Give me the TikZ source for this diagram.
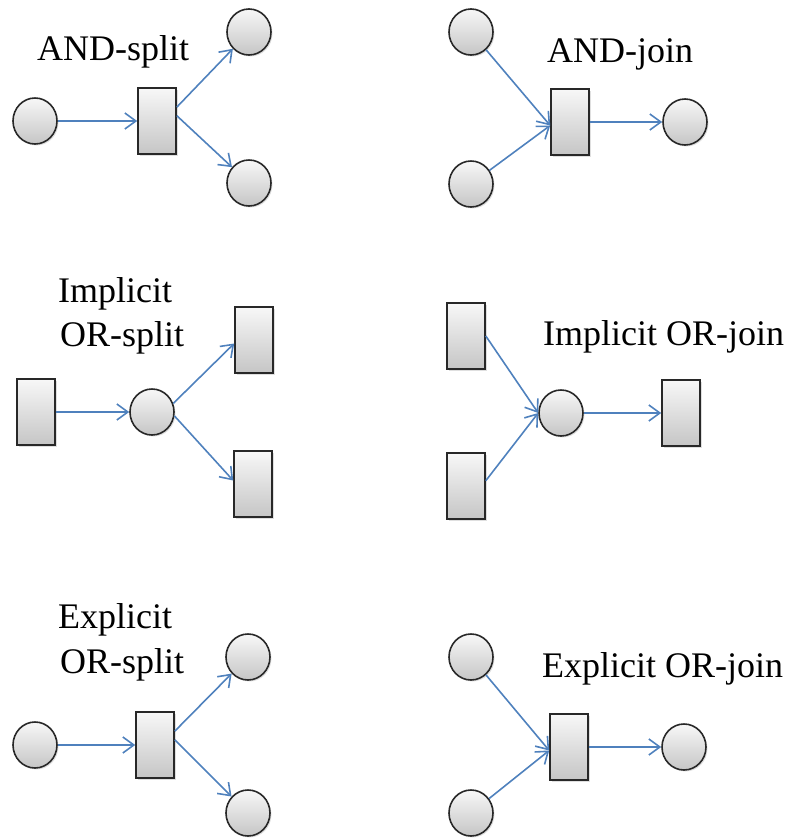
\documentclass[tikz,border=0pt]{standalone}
\usepackage{fontspec}
\setmainfont{Liberation Serif}
\usetikzlibrary{shapes.geometric,arrows.meta,shadows}

\definecolor{flowblue}{RGB}{79,129,189}
\definecolor{edgegray}{RGB}{40,40,40}

\tikzset{
  base shape/.style={draw=edgegray, line width=1.6pt, top color=gray!6, bottom color=gray!45,
    inner sep=0pt, drop shadow={opacity=0.25, shadow xshift=1.5pt, shadow yshift=-1.5pt}},
  place/.style={base shape, ellipse, minimum width=44pt, minimum height=46pt},
  trans/.style={base shape, rectangle, minimum width=38pt, minimum height=66pt},
  flow/.style={draw=flowblue, line width=1.6pt, -{Straight Barb[length=11pt,width=16pt,line width=1.6pt]}},
  lbl/.style={anchor=base west, inner sep=0pt, font=\fontsize{36}{44}\selectfont}
}

\begin{document}
\begin{tikzpicture}[x=1pt, y=-1pt]
\useasboundingbox (0,0) rectangle (790,838);

% ---------- AND-split ----------
\node[place] (p1) at (35,121) {};
\node[trans] (t1) at (157,121) {};
\node[place] (p2) at (249,32) {};
\node[place] (p3) at (249,183) {};
\node[lbl] (l1) at (37,60) {AND-split};
\draw[flow] (p1) -- (t1);
\draw[flow] (t1.35) -- (p2);
\draw[flow] (t1.15) -- (p3);

% ---------- AND-join ----------
\node[place] (p4) at (471,32) {};
\node[place] (p5) at (471,184) {};
\node[trans] (t2) at (570,122) {};
\node[place] (p6) at (685,122) {};
\node[lbl] (l2) at (547,62) {AND-join};
\draw[flow] (p4) -- (t2.190);
\draw[flow] (p5) -- (t2.190);
\draw[flow] (t2) -- (p6);

% ---------- Implicit OR-split ----------
\node[trans] (t3) at (36,412) {};
\node[place] (p7) at (152,412) {};
\node[trans] (t4) at (254,340) {};
\node[trans] (t5) at (253,484) {};
\node[lbl] (l3a) at (58,302) {Implicit};
\node[lbl] (l3b) at (60,346) {OR-split};
\draw[flow] (t3) -- (p7);
\draw[flow] (p7.22) -- (t4.190);
\draw[flow] (p7.-10) -- (t5.170);

% ---------- Implicit OR-join ----------
\node[trans] (t6) at (466,336) {};
\node[trans] (t7) at (466,486) {};
\node[place] (p8) at (561,413) {};
\node[trans] (t8) at (681,413) {};
\node[lbl] (l4) at (543,345) {Implicit OR-join};
\draw[flow] (t6.east) -- (p8.west);
\draw[flow] (t7.15) -- (p8.west);
\draw[flow] (p8) -- (t8);

% ---------- Explicit OR-split ----------
\node[place] (p9) at (35,745) {};
\node[trans] (t9) at (155,745) {};
\node[place] (p10) at (248,657) {};
\node[place] (p11) at (248,813) {};
\node[lbl] (l5a) at (58,628) {Explicit};
\node[lbl] (l5b) at (60,673) {OR-split};
\draw[flow] (p9) -- (t9);
\draw[flow] (t9.35) -- (p10);
\draw[flow] (t9.15) -- (p11);

% ---------- Explicit OR-join ----------
\node[place] (p12) at (471,657) {};
\node[place] (p13) at (471,813) {};
\node[trans] (t10) at (569,747) {};
\node[place] (p14) at (684,747) {};
\node[lbl] (l6) at (542,677) {Explicit OR-join};
\draw[flow] (p12) -- (t10.190);
\draw[flow] (p13) -- (t10.190);
\draw[flow] (t10) -- (p14);
\end{tikzpicture}
\end{document}
